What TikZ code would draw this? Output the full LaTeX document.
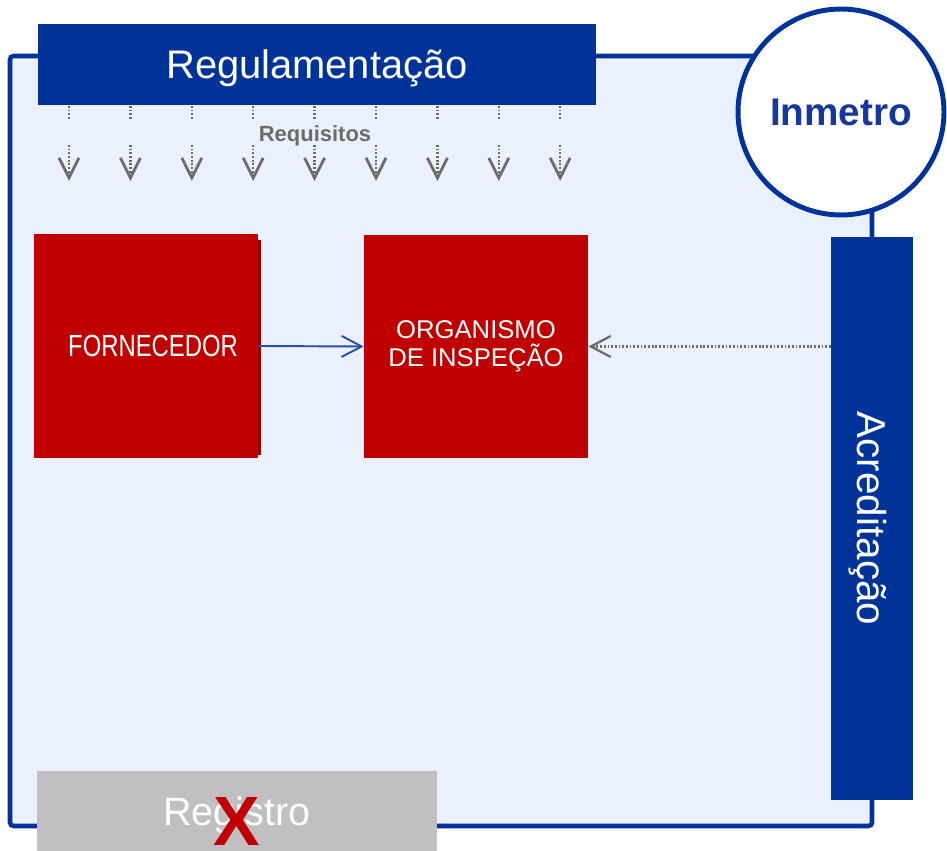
\documentclass[tikz,border=0pt]{standalone}
\usepackage{fontspec}
\setmainfont{Liberation Sans}
\newfontfamily\condfont[FakeStretch=0.78]{Liberation Sans}
\usepackage{tikz}
\usetikzlibrary{arrows.meta}
\usetikzlibrary{calc}

\definecolor{inmblue}{HTML}{003399}
\definecolor{inmlabel}{HTML}{14389C}
\definecolor{framefill}{HTML}{EAF1FD}
\definecolor{boxred}{HTML}{C00000}
\definecolor{shadowred}{HTML}{8E0000}
\definecolor{regray}{HTML}{C1BFC1}
\definecolor{reqgray}{HTML}{6E6B6B}
\definecolor{linkblue}{HTML}{2A4DA8}

\tikzset{
  redbox/.style={fill=boxred, text=white, minimum width=4.48cm, minimum height=4.48cm, inner sep=0pt},
  bluebar/.style={fill=inmblue, text=white, inner sep=0pt, text depth=0pt},
  reqline/.style={draw=reqgray, line width=1.3pt, dash pattern=on 1pt off 1.1pt},
  reqarrow/.style={reqline, -{Straight Barb[length=0.4cm,width=0.4cm,line width=1.6pt]}},
}

\begin{document}
\begin{tikzpicture}[x=0.02cm, y=-0.02cm]
    \useasboundingbox (0,0) rectangle (947,851);
    \draw[inmblue, line width=2.6pt, fill=framefill, rounded corners=2pt] (10,56) rectangle (872,826);

    \node[circle, draw=inmblue, line width=2.8pt, fill=white, minimum size=4.12cm, text=inmlabel, text depth=0pt, font=\bfseries\fontsize{22}{26}\selectfont] (inmetro) at (841,112) {Inmetro};

    \node[bluebar, minimum width=11.16cm, minimum height=1.62cm, font=\fontsize{22.7}{27}\selectfont] (regul) at (317,64.5) {Regulamentação};
    \node[bluebar, rotate=-90, minimum width=11.26cm, minimum height=1.64cm, font=\fontsize{23}{28}\selectfont] (acred) at (872,518.5) {Acreditação};

    \foreach \i in {0,...,8} {
        \pgfmathsetmacro{\xx}{69+61.4*\i}
        \draw[reqline] (\xx,106) -- (\xx,119);
        \draw[reqarrow] (\xx,145) -- (\xx,181);
    }
    \node[text=reqgray, anchor=base, font=\bfseries\fontsize{12.5}{15}\selectfont] (req) at (315,142) {Requisitos};

    \fill[shadowred] (37,240) rectangle (261,455);
    \node[redbox, text depth=0pt, font=\condfont\fontsize{17.4}{20}\selectfont] (forn) at (146,346) {\hspace*{0.28cm}FORNECEDOR};
    \node[redbox, align=center, font=\fontsize{14.6}{16.1}\selectfont] (org) at (476,346.5) {ORGANISMO\\DE INSPEÇÃO};

    \draw[linkblue, line width=1.1pt, -{Straight Barb[length=0.4cm,width=0.42cm]}] (forn.east) -- (org.west);
    \draw[reqgray, line width=1.3pt, dash pattern=on 1pt off 1.1pt, -{Straight Barb[length=0.4cm,width=0.42cm]}] (acred.south |- org.east) -- (org.east);

    \node[fill=regray, text=white, minimum width=8cm, minimum height=1.6cm, inner sep=0pt, text depth=0pt, font=\fontsize{22.5}{27}\selectfont] (reg) at (237,811) {Registro};
    \node[text=boxred, inner sep=0pt, text depth=0pt, font=\bfseries\fontsize{39.7}{45}\selectfont] (cross) at (236.5,822) {X};
\end{tikzpicture}
\end{document}
